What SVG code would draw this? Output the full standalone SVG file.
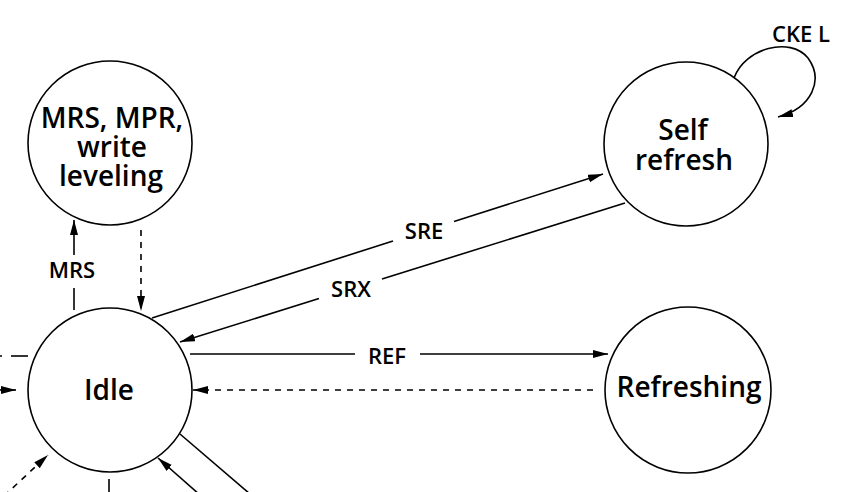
<svg xmlns="http://www.w3.org/2000/svg" width="852" height="492" viewBox="0 0 852 492">
<style>
.node{fill:#fff;stroke:#000;stroke-width:1.6}
.t{font-family:"Open Sans","Noto Sans",sans-serif;font-size:28px;font-weight:600;fill:#000;text-anchor:middle}
.l{font-family:"Open Sans","Noto Sans",sans-serif;font-size:22px;font-weight:600;fill:#000;text-anchor:middle}
.c{fill:none;stroke:#000;stroke-width:1.6}
.a{marker-end:url(#ah)}
.d{stroke-dasharray:6 6}
</style>
<defs>
<marker id="ah" markerUnits="userSpaceOnUse" markerWidth="16" markerHeight="10" refX="15" refY="4" orient="auto">
<path d="M0,0 L15,4 L0,8 z" fill="#000"/>
</marker>
</defs>
<rect width="852" height="492" fill="#fff"/>
<g id="connectors">
<line class="c" x1="74" y1="310" x2="74" y2="288"/>
<line class="c a" x1="74" y1="255" x2="74" y2="220"/>
<line class="c d a" x1="141" y1="230" x2="141" y2="311"/>
<line class="c" x1="152" y1="318" x2="393" y2="241"/>
<line class="c a" x1="454" y1="221.5" x2="603" y2="174"/>
<line class="c" x1="625" y1="203" x2="382" y2="279"/>
<line class="c a" x1="319" y1="298.6" x2="180" y2="342"/>
<line class="c" x1="190" y1="354" x2="355" y2="354"/>
<line class="c a" x1="420" y1="354" x2="608" y2="354"/>
<line class="c d a" x1="593" y1="390" x2="193" y2="390"/>
<path class="c a" d="M734,78 C745,48 790,36 808,58 C824,80 812,108 778,117"/>
<line class="c" x1="11" y1="356" x2="28" y2="356"/>
<line class="c" x1="0" y1="356" x2="2" y2="356"/>
<line class="c a" x1="-10" y1="390" x2="16" y2="390"/>
<line class="c d a" x1="4" y1="496" x2="48" y2="455"/>
<line class="c" x1="109" y1="479" x2="109" y2="492"/>
<line class="c a" x1="200" y1="495" x2="158" y2="458"/>
<line class="c" x1="180" y1="434" x2="250" y2="494"/>
</g>
<g id="labels">
<text class="l" x="72" y="278">MRS</text>
<text class="l" x="424" y="239">SRE</text>
<text class="l" x="351" y="297">SRX</text>
<text class="l" x="387" y="364">REF</text>
<text class="l" x="801" y="42">CKE L</text>
</g>
<g id="node-mrs">
<circle class="node" cx="110" cy="143" r="82"/>
<text class="t" x="112" y="128">MRS, MPR,</text>
<text class="t" x="112" y="157">write</text>
<text class="t" x="111" y="186">leveling</text>
</g>
<g id="node-idle">
<circle class="node" cx="110" cy="390" r="82"/>
<text class="t" x="109" y="400">Idle</text>
</g>
<g id="node-self">
<circle class="node" cx="686" cy="144" r="82"/>
<text class="t" x="683" y="140">Self</text>
<text class="t" x="684" y="170">refresh</text>
</g>
<g id="node-refreshing">
<circle class="node" cx="688" cy="390" r="83"/>
<text class="t" x="689" y="397">Refreshing</text>
</g>
</svg>
